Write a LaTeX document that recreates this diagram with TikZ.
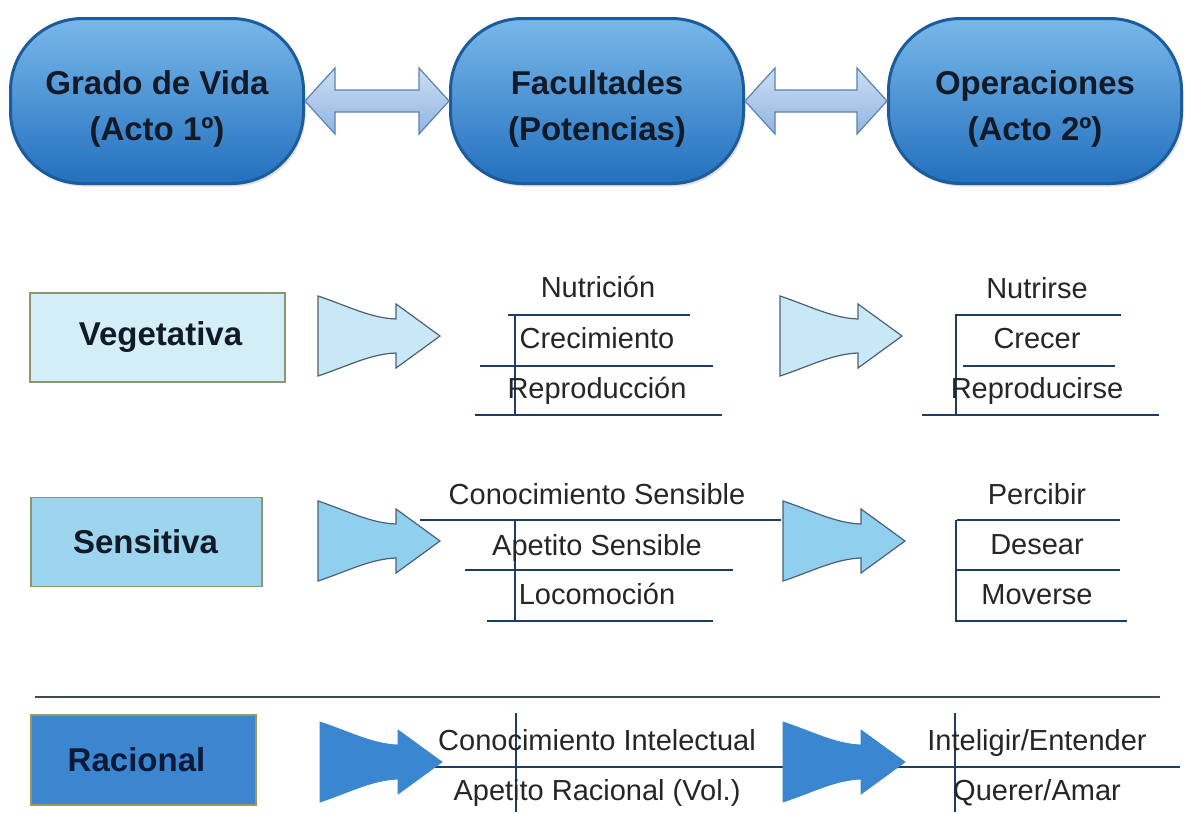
\documentclass[tikz,border=0pt]{standalone}
\usepackage{fontspec}
\setmainfont{Liberation Sans}
\usetikzlibrary{shadows,calc}
\definecolor{topA}{HTML}{79B8EA}
\definecolor{topM}{HTML}{3A8DD6}
\definecolor{topB}{HTML}{2370BE}
\definecolor{topD}{HTML}{1C5C9C}
\definecolor{topT}{HTML}{111A26}
\definecolor{dblA}{HTML}{CCDFF4}
\definecolor{dblB}{HTML}{91B4E0}
\definecolor{dblD}{HTML}{5A83B5}
\definecolor{vegF}{HTML}{D4EEF8}
\definecolor{senF}{HTML}{9DD4EE}
\definecolor{racF}{HTML}{3C86CF}
\definecolor{boxE}{HTML}{8A9872}
\definecolor{racE}{HTML}{9C9A58}
\definecolor{arrD}{HTML}{4A6075}
\definecolor{vegA}{HTML}{C9E8F6}
\definecolor{senA}{HTML}{90D0EE}
\definecolor{racA}{HTML}{3A86D0}
\definecolor{rulec}{HTML}{1E3D66}
\definecolor{sepc}{HTML}{3E4A58}
\definecolor{txt}{HTML}{262626}
\definecolor{racT}{HTML}{0C1A3A}
\tikzset{
  pics/carrow/.style={code={
    \path[pic actions] (0,-40) .. controls (30,-30) and (52,-18) .. (78,-17)
      -- (78,-32) -- (122,0) -- (78,32) -- (78,17)
      .. controls (52,18) and (30,30) .. (0,40) -- cycle;}},
  topbox/.style={rounded corners=72pt, minimum width=293pt, minimum height=165pt,
    top color=topA, middle color=topM, bottom color=topB, draw=topD, line width=3pt,
    inner sep=0pt, drop shadow={opacity=0.25, shadow xshift=2pt, shadow yshift=-3pt}},
  toptext/.style={font=\bfseries\fontsize{33}{46}\selectfont, text=topT, align=center, inner sep=0pt},
  lvlbox/.style={line width=1.5pt, font=\bfseries\fontsize{33}{38}\selectfont,
    text=topT, inner sep=0pt},
  item/.style={font=\fontsize{29}{34}\selectfont, text=txt, anchor=base, inner sep=0pt},
  rule/.style={draw=rulec, line width=1.5pt},
  dbl/.style={top color=dblA, bottom color=dblB, draw=dblD, line width=1.2pt, line join=miter},
}
\begin{document}
\begin{tikzpicture}[x=1pt,y=-1pt]
\useasboundingbox[fill=white] (0,0) rectangle (1185,812);

% top row
\node[topbox] (g) at (157,101) {};
\node[topbox] (f) at (597,101) {};
\node[topbox] (o) at (1035,101) {};
\node[toptext] (gt) at ($(g.center)+(0,8)$) {Grado de Vida\\(Acto 1º)};
\node[toptext] (ft) at ($(f.center)+(0,8)$) {Facultades\\(Potencias)};
\node[toptext] (ot) at ($(o.center)+(0,8)$) {Operaciones\\(Acto 2º)};

\path[dbl] (g.east) -- ++(30,-33) -- ++(0,22) -- ($(f.west)+(-30,-11)$) -- ++(0,-22)
  -- (f.west) -- ++(-30,33) -- ++(0,-22) -- ($(g.east)+(30,11)$) -- ++(0,22) -- cycle;
\path[dbl] (f.east) -- ++(30,-33) -- ++(0,22) -- ($(o.west)+(-30,-11)$) -- ++(0,-22)
  -- (o.west) -- ++(-30,33) -- ++(0,-22) -- ($(f.east)+(30,11)$) -- ++(0,22) -- cycle;

% level boxes
\node[lvlbox, fill=vegF, draw=boxE, minimum width=255pt, minimum height=89pt] (veg) at (157.5,337.5) {};
\node[lvlbox] (vegt) at ($(veg.center)+(3,0)$) {Vegetativa};
\node[lvlbox, fill=senF, draw=boxE, minimum width=231pt, minimum height=89pt] (sen) at (146.5,542) {};
\node[lvlbox] (sent) at ($(sen.center)+(-1,0)$) {Sensitiva};
\node[lvlbox, fill=racF, draw=racE, minimum width=225pt, minimum height=90pt] (rac) at (143.5,760) {};
\node[lvlbox, text=racT] (ract) at ($(rac.center)+(-7,0)$) {Racional};

% separator
\draw[draw=sepc, line width=2pt] (35,697) -- (1160,697);

% rules, row 2
\draw[rule] (508,315) -- (690,315);
\draw[rule] (480,366) -- (713,366);
\draw[rule] (475,415) -- (722,415);
\draw[rule] (515,315) -- (515,415);
\draw[rule] (955,315) -- (1121,315);
\draw[rule] (963,366) -- (1115,366);
\draw[rule] (922,415) -- (1159,415);
\draw[rule] (956,315) -- (956,415);
% rules, row 3
\draw[rule] (420,520) -- (781,520);
\draw[rule] (465,570) -- (733,570);
\draw[rule] (487,621) -- (713,621);
\draw[rule] (515,519) -- (515,621);
\draw[rule] (957,520) -- (1120,520);
\draw[rule] (957,570) -- (1120,570);
\draw[rule] (955,621) -- (1127,621);
\draw[rule] (956,520) -- (956,621);
% rules, row 4
\draw[rule] (415,767) -- (1180,767);
\draw[rule] (516,713) -- (516,812);
\draw[rule] (955,713) -- (955,812);

% curved arrows
\pic[fill=vegA, draw=arrD, line width=1.2pt] at (318,336) {carrow};
\pic[fill=vegA, draw=arrD, line width=1.2pt] at (780,336) {carrow};
\pic[fill=senA, draw=arrD, line width=1.2pt] at (318,541) {carrow};
\pic[fill=senA, draw=arrD, line width=1.2pt] at (783,541) {carrow};
\pic[fill=racA, draw=racA, line width=0.8pt] at (320,762) {carrow};
\pic[fill=racA, draw=racA, line width=0.8pt] at (783,762) {carrow};

% column texts
\node[item] (n1) at (598,297) {Nutrición};
\node[item] (n2) at (597,348) {Crecimiento};
\node[item] (n3) at (597,398) {Reproducción};
\node[item] (o1) at (1037,298) {Nutrirse};
\node[item] (o2) at (1037,348) {Crecer};
\node[item] (o3) at (1037,398) {Reproducirse};
\node[item] (s1) at (597,504) {Conocimiento Sensible};
\node[item] (s2) at (597,555) {Apetito Sensible};
\node[item] (s3) at (597,604) {Locomoción};
\node[item] (p1) at (1037,504) {Percibir};
\node[item] (p2) at (1037,554) {Desear};
\node[item] (p3) at (1037,604) {Moverse};
\node[item] (r1) at (597,750) {Conocimiento Intelectual};
\node[item] (r2) at (597,800) {Apetito Racional (Vol.)};
\node[item] (q1) at (1037,750) {Inteligir/Entender};
\node[item] (q2) at (1037,800) {Querer/Amar};
\end{tikzpicture}
\end{document}
